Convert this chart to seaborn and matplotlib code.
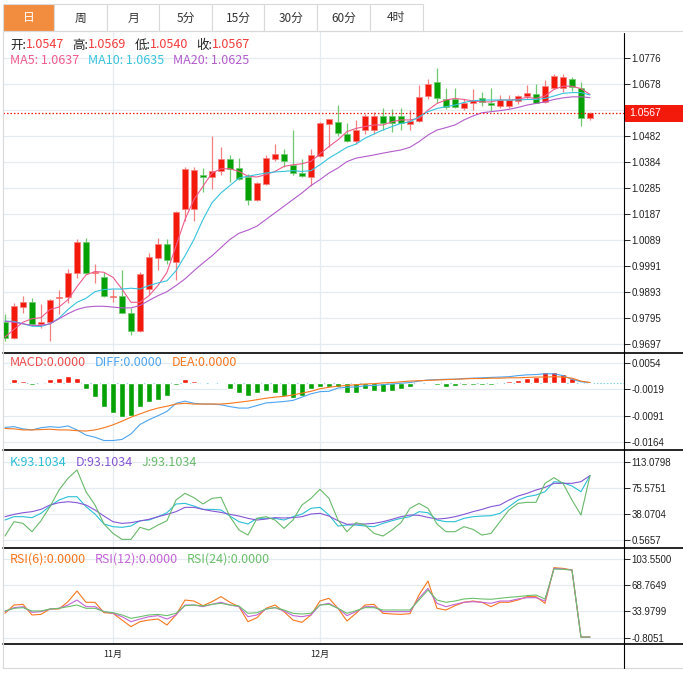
import matplotlib
matplotlib.use("Agg")
import matplotlib.pyplot as plt
from matplotlib.lines import Line2D
from matplotlib.patches import Rectangle
import numpy as np
import seaborn as sns

W, H = 683, 676

# ---- data (daily candles) ----
opens = [0.9778, 0.9718, 0.9835, 0.9854, 0.9771, 0.9779, 0.9869, 0.9873, 0.9964, 1.0083,
         0.9964, 0.9949, 0.9873, 0.9878, 0.9815, 0.9745, 0.9905, 1.0019, 1.0074, 1.0004,
         1.0204, 1.0204, 1.0334, 1.0325, 1.0347, 1.0394, 1.0360, 1.0325, 1.0238, 1.0301,
         1.0394, 1.0413, 1.0371, 1.0341, 1.0327, 1.0404, 1.0527, 1.0532, 1.0487, 1.0460,
         1.0504, 1.0504, 1.0555, 1.0555, 1.0555, 1.0527, 1.0536, 1.0630, 1.0682, 1.0620,
         1.0620, 1.0587, 1.0605, 1.0623, 1.0606, 1.0594, 1.0594, 1.0611, 1.0631, 1.0640,
         1.0610, 1.0662, 1.0662, 1.0694, 1.0663, 1.0547]
highs = [0.9809, 0.9853, 0.9876, 0.9872, 0.9847, 0.9868, 0.9899, 0.9980, 1.0092, 1.0098,
         1.0000, 0.9969, 0.9903, 0.9977, 0.9833, 0.9969, 1.0038, 1.0098, 1.0092, 1.0198,
         1.0364, 1.0364, 1.0360, 1.0482, 1.0439, 1.0408, 1.0398, 1.0339, 1.0306, 1.0407,
         1.0452, 1.0432, 1.0502, 1.0394, 1.0432, 1.0535, 1.0546, 1.0596, 1.0531, 1.0542,
         1.0565, 1.0569, 1.0587, 1.0584, 1.0587, 1.0580, 1.0674, 1.0697, 1.0738, 1.0663,
         1.0663, 1.0621, 1.0659, 1.0645, 1.0660, 1.0634, 1.0634, 1.0636, 1.0672, 1.0675,
         1.0691, 1.0713, 1.0713, 1.0703, 1.0684, 1.0569]
lows = [0.9708, 0.9716, 0.9813, 0.9767, 0.9759, 0.9707, 0.9809, 0.9852, 0.9944, 0.9962,
        0.9928, 0.9874, 0.9855, 0.9813, 0.9730, 0.9743, 0.9884, 0.9974, 0.9997, 0.9939,
        1.0162, 1.0162, 1.0271, 1.0281, 1.0335, 1.0306, 1.0313, 1.0222, 1.0236, 1.0297,
        1.0385, 1.0364, 1.0334, 1.0326, 1.0291, 1.0403, 1.0440, 1.0479, 1.0457, 1.0452,
        1.0489, 1.0487, 1.0502, 1.0496, 1.0502, 1.0504, 1.0533, 1.0621, 1.0603, 1.0584,
        1.0586, 1.0577, 1.0580, 1.0592, 1.0575, 1.0587, 1.0587, 1.0600, 1.0618, 1.0603,
        1.0606, 1.0659, 1.0647, 1.0650, 1.0518, 1.0540]
closes = [0.9721, 0.9839, 0.9857, 0.9771, 0.9781, 0.9863, 0.9874, 0.9964, 1.0083, 0.9964,
          0.9968, 0.9877, 0.9876, 0.9814, 0.9744, 0.9961, 1.0023, 1.0074, 1.0012, 1.0195,
          1.0357, 1.0354, 1.0325, 1.0349, 1.0394, 1.0357, 1.0318, 1.0238, 1.0303, 1.0396,
          1.0413, 1.0385, 1.0340, 1.0329, 1.0407, 1.0529, 1.0544, 1.0492, 1.0460, 1.0504,
          1.0555, 1.0555, 1.0531, 1.0530, 1.0530, 1.0537, 1.0628, 1.0678, 1.0624, 1.0590,
          1.0590, 1.0603, 1.0615, 1.0610, 1.0599, 1.0615, 1.0615, 1.0633, 1.0642, 1.0606,
          1.0668, 1.0706, 1.0701, 1.0665, 1.0548, 1.0567]

ma5 = [0.9723, 0.9752, 0.9779, 0.9792, 0.9796, 0.9827, 0.9836, 0.9864, 0.9913, 0.9957,
       0.9970, 0.9967, 0.9948, 0.9904, 0.9854, 0.9854, 0.9879, 0.9917, 0.9967, 1.0066,
       1.0166, 1.0241, 1.0291, 1.0341, 1.0357, 1.0357, 1.0347, 1.0329, 1.0326, 1.0335,
       1.0347, 1.0366, 1.0372, 1.0376, 1.0385, 1.0413, 1.0441, 1.0466, 1.0497, 1.0509,
       1.0516, 1.0522, 1.0522, 1.0534, 1.0541, 1.0541, 1.0547, 1.0578, 1.0603, 1.0616,
       1.0622, 1.0618, 1.0613, 1.0609, 1.0609, 1.0616, 1.0616, 1.0619, 1.0626, 1.0622,
       1.0631, 1.0656, 1.0668, 1.0668, 1.0659, 1.0637]
ma10 = [0.9783, 0.9782, 0.9773, 0.9764, 0.9763, 0.9773, 0.9794, 0.9827, 0.9854, 0.9869,
        0.9894, 0.9902, 0.9904, 0.9904, 0.9907, 0.9904, 0.9917, 0.9927, 0.9935, 0.9973,
        1.0029, 1.0091, 1.0166, 1.0229, 1.0266, 1.0294, 1.0322, 1.0329, 1.0335, 1.0341,
        1.0345, 1.0347, 1.0350, 1.0347, 1.0350, 1.0372, 1.0397, 1.0417, 1.0438, 1.0450,
        1.0472, 1.0488, 1.0503, 1.0516, 1.0528, 1.0534, 1.0553, 1.0572, 1.0584, 1.0591,
        1.0597, 1.0607, 1.0613, 1.0616, 1.0616, 1.0616, 1.0616, 1.0616, 1.0618, 1.0618,
        1.0622, 1.0631, 1.0641, 1.0644, 1.0644, 1.0635]
ma20 = [0.9783, 0.9779, 0.9773, 0.9767, 0.9767, 0.9773, 0.9792, 0.9811, 0.9827, 0.9836,
        0.9839, 0.9839, 0.9836, 0.9833, 0.9833, 0.9842, 0.9861, 0.9879, 0.9894, 0.9917,
        0.9942, 0.9973, 1.0002, 1.0029, 1.0060, 1.0091, 1.0114, 1.0126, 1.0141, 1.0166,
        1.0191, 1.0216, 1.0241, 1.0266, 1.0294, 1.0316, 1.0341, 1.0360, 1.0384, 1.0397,
        1.0403, 1.0409, 1.0416, 1.0422, 1.0428, 1.0438, 1.0459, 1.0484, 1.0503, 1.0512,
        1.0522, 1.0541, 1.0556, 1.0568, 1.0572, 1.0576, 1.0581, 1.0588, 1.0597, 1.0603,
        1.0609, 1.0618, 1.0624, 1.0628, 1.0628, 1.0625]

macd_hist = [0.0002, 0.0010, 0.0004, -0.0006, 0.0000, 0.0009, 0.0013, 0.0018, 0.0013, -0.0019,
             -0.0040, -0.0066, -0.0084, -0.0095, -0.0092, -0.0066, -0.0054, -0.0049, -0.0038, -0.0006,
             0.0011, 0.0005, 0.0000, 0.0000, -0.0005, -0.0019, -0.0030, -0.0038, -0.0029, -0.0023,
             -0.0029, -0.0036, -0.0043, -0.0036, -0.0019, -0.0012, -0.0013, -0.0011, -0.0028, -0.0028,
             -0.0019, -0.0023, -0.0026, -0.0023, -0.0019, -0.0011, -0.0001, 0.0001, -0.0007, -0.0011,
             -0.0009, -0.0007, -0.0007, -0.0007, -0.0006, 0.0000, 0.0003, 0.0007, 0.0013, 0.0015,
             0.0028, 0.0030, 0.0023, 0.0012, -0.0001, 0.0000]
diff = [-0.0123, -0.0121, -0.0127, -0.0130, -0.0124, -0.0121, -0.0123, -0.0119, -0.0130, -0.0144,
        -0.0150, -0.0159, -0.0159, -0.0156, -0.0141, -0.0115, -0.0102, -0.0091, -0.0079, -0.0057,
        -0.0051, -0.0057, -0.0059, -0.0059, -0.0061, -0.0066, -0.0070, -0.0070, -0.0063, -0.0056,
        -0.0054, -0.0052, -0.0049, -0.0040, -0.0031, -0.0025, -0.0024, -0.0015, -0.0013, -0.0012,
        -0.0009, -0.0008, -0.0006, -0.0004, -0.0002, 0.0000, 0.0004, 0.0007, 0.0008, 0.0009,
        0.0009, 0.0011, 0.0012, 0.0013, 0.0014, 0.0015, 0.0016, 0.0019, 0.0021, 0.0022,
        0.0024, 0.0024, 0.0019, 0.0009, 0.0002, 0.0000]
dea = [-0.0126, -0.0127, -0.0130, -0.0130, -0.0129, -0.0128, -0.0130, -0.0130, -0.0132, -0.0133,
       -0.0130, -0.0124, -0.0116, -0.0106, -0.0095, -0.0086, -0.0077, -0.0070, -0.0065, -0.0059,
       -0.0057, -0.0059, -0.0059, -0.0059, -0.0059, -0.0057, -0.0054, -0.0051, -0.0047, -0.0043,
       -0.0040, -0.0038, -0.0034, -0.0029, -0.0024, -0.0017, -0.0013, -0.0010, -0.0008, -0.0006,
       -0.0004, -0.0003, -0.0001, 0.0000, 0.0002, 0.0004, 0.0005, 0.0006, 0.0007, 0.0008,
       0.0009, 0.0010, 0.0011, 0.0011, 0.0012, 0.0012, 0.0013, 0.0013, 0.0014, 0.0015,
       0.0015, 0.0016, 0.0015, 0.0012, 0.0004, 0.0000]

k_line = [29.3, 34.1, 34.1, 32.7, 38.9, 49.4, 58.0, 62.8, 62.8, 48.5,
          37.9, 23.6, 19.7, 18.8, 20.7, 28.3, 29.3, 34.1, 39.8, 52.3,
          53.2, 49.4, 44.6, 44.6, 43.7, 35.0, 26.9, 23.6, 31.7, 31.7,
          31.7, 29.3, 34.1, 37.9, 46.1, 47.5, 36.5, 20.7, 22.1, 22.1,
          20.7, 19.7, 24.5, 28.3, 31.7, 34.1, 41.3, 39.8, 29.3, 26.9,
          26.9, 31.7, 34.1, 35.0, 35.5, 38.9, 48.5, 58.0, 62.8, 65.2,
          70.0, 84.4, 83.0, 78.2, 70.0, 93.1034]
d_line = [34.1, 37.4, 39.8, 41.3, 44.6, 50.9, 54.2, 55.6, 54.2, 50.9,
          43.7, 35.0, 26.9, 24.5, 25.5, 27.9, 30.3, 34.1, 37.4, 41.3,
          47.5, 47.5, 44.6, 42.2, 40.3, 37.4, 35.0, 31.7, 29.3, 30.7,
          32.7, 32.2, 32.7, 34.1, 37.9, 38.9, 35.0, 28.3, 23.1, 23.6,
          23.6, 24.5, 26.9, 30.3, 34.1, 36.5, 36.0, 33.1, 30.7, 31.7,
          34.1, 37.4, 41.3, 44.6, 48.5, 50.9, 58.0, 63.7, 67.6, 72.4,
          76.2, 82.0, 82.0, 82.0, 84.4, 93.1034]
j_line = [6.3, 26.9, 24.5, 12.5, 28.3, 48.5, 72.4, 89.2, 101.2, 70.0,
          50.9, 23.6, 10.1, 1.5, 1.5, 18.8, 14.9, 22.1, 28.3, 58.0,
          67.6, 61.4, 52.3, 60.4, 61.9, 34.1, 14.9, 7.7, 31.7, 34.1,
          29.3, 17.3, 29.3, 50.9, 60.4, 73.4, 60.4, 29.3, 12.5, 25.5,
          22.1, 10.1, 6.3, 14.9, 25.5, 46.1, 53.2, 46.1, 23.6, 12.5,
          12.5, 19.7, 15.9, 7.7, 10.1, 26.9, 43.7, 53.2, 54.7, 54.7,
          82.0, 90.1, 82.0, 58.0, 36.5, 93.1034]

rsi6 = [31.5, 42.5, 43.4, 29.3, 30.1, 37.2, 37.2, 46.9, 61.1, 46.1,
        46.1, 32.3, 31.5, 22.6, 13.8, 20.4, 22.6, 23.9, 16.0, 29.3,
        49.1, 47.8, 41.6, 46.9, 53.6, 46.1, 40.3, 20.4, 25.7, 38.1,
        42.5, 33.7, 22.6, 19.5, 29.3, 47.8, 51.4, 38.1, 21.3, 31.5,
        42.5, 43.4, 31.5, 30.6, 30.1, 31.0, 55.8, 74.3, 38.1, 35.9,
        41.6, 46.1, 47.8, 46.1, 40.3, 46.1, 46.1, 49.1, 53.6, 53.6,
        44.7, 92.0, 91.1, 88.9, 0.0, 0.0]
rsi12 = [33.7, 39.0, 40.3, 32.8, 33.7, 37.2, 38.1, 42.5, 49.1, 40.3,
         40.3, 33.7, 31.5, 27.0, 20.4, 23.9, 27.0, 28.4, 23.9, 29.3,
         42.5, 42.5, 40.3, 43.4, 46.1, 42.5, 40.3, 27.0, 29.3, 37.2,
         39.0, 34.6, 28.4, 27.0, 29.3, 42.5, 44.7, 38.1, 28.4, 33.7,
         40.3, 40.3, 33.7, 33.7, 33.7, 33.7, 51.4, 64.6, 44.7, 40.3,
         43.4, 46.1, 46.9, 46.1, 44.7, 47.8, 47.8, 50.5, 52.2, 52.2,
         47.8, 91.1, 90.2, 88.9, 0.0, 0.0]
rsi24 = [34.6, 38.1, 39.0, 34.6, 34.6, 37.2, 38.1, 40.3, 42.5, 38.1,
         38.1, 33.7, 32.3, 29.3, 24.8, 27.0, 29.3, 30.1, 28.4, 31.5,
         41.6, 42.5, 41.2, 43.4, 44.7, 42.5, 41.2, 31.5, 32.3, 37.2,
         39.0, 35.9, 31.5, 30.6, 31.5, 42.5, 43.4, 38.1, 31.5, 35.0,
         39.0, 39.0, 35.9, 35.9, 35.9, 35.9, 49.1, 62.4, 49.1, 46.1,
         47.8, 50.5, 51.4, 50.5, 50.1, 51.4, 52.7, 53.6, 54.9, 55.8,
         50.5, 90.2, 89.8, 88.9, 0.0, 0.0]

tabs = ["日", "周", "月", "5分", "15分", "30分", "60分", "4时"]
month_pos = [12, 35]
month_labels = ["11月", "12月"]

price_ticks = [0.9697, 0.9795, 0.9893, 0.9991, 1.0089, 1.0187, 1.0285, 1.0384,
               1.0482, 1.0580, 1.0678, 1.0776]
macd_ticks = [-0.0164, -0.0091, -0.0019, 0.0054]
kdj_ticks = [0.5657, 38.0704, 75.5751, 113.0798]
rsi_ticks = [-0.8051, 33.9799, 68.7649, 103.5500]

# ---- colours ----
RED, GREEN = "#f31a0b", "#05a105"
RED_WICK, GREEN_WICK = "#f58080", "#70c970"
GRID = "#e4ecf2"
BORDER = "#d9d9d9"
C_MA5, C_MA10, C_MA20 = "#ef5b8c", "#36c3dd", "#b35ccb"
C_DIFF, C_DEA, C_MACD = "#4ea4ee", "#f7771d", "#ef4d4d"
C_K, C_D, C_J = "#2bbfd6", "#8656d6", "#69b96b"
C_R6, C_R12, C_R24 = "#f7771d", "#c464d6", "#6bc06b"

sns.set_theme(style="white")
plt.rcParams["font.family"] = ["Noto Sans CJK SC", "DejaVu Sans"]

fig = plt.figure(figsize=(W / 100, H / 100), dpi=100)
fig.patch.set_facecolor("white")

XMIN, XMAX = -0.22, 68.78
idx = np.arange(len(closes))


def box(x0, y0, x1, y1):
    return [x0 / W, 1 - y1 / H, (x1 - x0) / W, (y1 - y0) / H]


def hline(y, x0, x1, color, lw):
    fig.add_artist(Line2D([x0 / W, x1 / W], [1 - y / H, 1 - y / H],
                          transform=fig.transFigure, color=color, lw=lw))


def vline(x, y0, y1, color, lw):
    fig.add_artist(Line2D([x / W, x / W], [1 - y0 / H, 1 - y1 / H],
                          transform=fig.transFigure, color=color, lw=lw))


def panel(y0, y1, ylim, ticks, labels):
    ax = fig.add_axes(box(3, y0, 624, y1))
    ax.set_facecolor("none")
    ax.set_xlim(XMIN, XMAX)
    ax.set_ylim(*ylim)
    for s in ax.spines.values():
        s.set_visible(False)
    ax.yaxis.tick_right()
    ax.set_yticks(ticks, labels, fontsize=7, fontfamily="Liberation Sans")
    ax.tick_params(axis="y", direction="out", length=4, width=0.6,
                   color="black", pad=1.5, labelcolor="#222222")
    ax.set_xticks([])
    for t in ticks:
        ax.axhline(t, color=GRID, lw=0.9, zorder=0)
    for m in month_pos:
        ax.axvline(m, color=GRID, lw=0.9, zorder=0)
    return ax


def text_row(x, y, parts, size=9):
    r = fig.canvas.get_renderer()
    for s, c, gap in parts:
        t = fig.text(x / W, 1 - y / H, s, color=c, fontsize=size, va="center", ha="left")
        x += t.get_window_extent(r).width + gap


# ---- main candlestick panel ----
ax = panel(31, 353, (0.9663, 1.0876), price_ticks,
           [f"{v:.4f}" if v != 1.0580 else "" for v in price_ticks])
o, c, h, l = map(np.array, (opens, closes, highs, lows))
up = c >= o
body_col = np.where(up, RED, GREEN)
wick_col = np.where(up, RED_WICK, GREEN_WICK)
ax.vlines(idx, l, h, colors=wick_col, lw=0.9, zorder=2)
ax.bar(idx, np.maximum(np.abs(c - o), 0.0004), bottom=np.minimum(o, c), width=0.68,
       color=body_col, edgecolor=wick_col, linewidth=0.5, zorder=3)
for series, col in ((ma5, C_MA5), (ma10, C_MA10), (ma20, C_MA20)):
    sns.lineplot(x=idx, y=series, ax=ax, color=col, linewidth=0.8, zorder=4)
ax.axhline(closes[-1], color=RED, lw=0.9, ls=(0, (1.2, 1.6)), zorder=5)

# current price tag on the axis
ytag = ax.transData.transform((0, closes[-1]))[1]
fig.add_artist(Rectangle((625 / W, (ytag - 8.5) / H), 58 / W, 17 / H,
                         transform=fig.transFigure, fc=RED, ec="none", zorder=6))
fig.text(629 / W, ytag / H, f"{closes[-1]:.4f}", color="white", fontsize=7.5,
         fontfamily="Liberation Sans", va="center", ha="left", zorder=7)

DARK, VAL = "#222222", "#f23a3a"
text_row(10, 45, [("开:", DARK, 0), (f"{opens[-1]:.4f}", VAL, 8),
                  ("高:", DARK, 0), (f"{highs[-1]:.4f}", VAL, 8),
                  ("低:", DARK, 0), (f"{lows[-1]:.4f}", VAL, 8),
                  ("收:", DARK, 0), (f"{closes[-1]:.4f}", VAL, 0)])
text_row(10, 60, [(f"MA5: {ma5[-1]:.4f}", C_MA5, 9),
                  (f"MA10: {ma10[-1]:.4f}", C_MA10, 9),
                  (f"MA20: {ma20[-1]:.4f}", C_MA20, 0)])

# ---- MACD ----
ax2 = panel(353, 450, (-0.0185, 0.0081), macd_ticks, [f"{v:.4f}" for v in macd_ticks])
hist = np.array(macd_hist)
ax2.bar(idx, hist, width=0.68, color=np.where(hist >= 0, RED, GREEN), zorder=2)
ax2.axhline(0, color="#8fd3e0", lw=0.8, ls=(0, (1.5, 1.5)), zorder=1)
sns.lineplot(x=idx, y=diff, ax=ax2, color=C_DIFF, linewidth=0.8, zorder=3)
sns.lineplot(x=idx, y=dea, ax=ax2, color=C_DEA, linewidth=0.8, zorder=3)
text_row(10, 363, [(f"MACD:{macd_hist[-1]:.4f}", C_MACD, 9),
                   (f"DIFF:{diff[-1]:.4f}", C_DIFF, 9),
                   (f"DEA:{dea[-1]:.4f}", C_DEA, 0)])

# ---- KDJ ----
ax3 = panel(450, 548, (-10.9, 129.9), kdj_ticks, [f"{v:.4f}" for v in kdj_ticks])
for series, col in ((k_line, C_K), (d_line, C_D), (j_line, C_J)):
    sns.lineplot(x=idx, y=series, ax=ax3, color=col, linewidth=0.8)
text_row(10, 462, [(f"K:{k_line[-1]:.4f}", C_K, 9),
                   (f"D:{d_line[-1]:.4f}", C_D, 9),
                   (f"J:{j_line[-1]:.4f}", C_J, 0)])

# ---- RSI ----
ax4 = panel(548, 644, (-9.2, 118.1), rsi_ticks, [f"{v:.4f}" for v in rsi_ticks])
for series, col in ((rsi6, C_R6), (rsi12, C_R12), (rsi24, C_R24)):
    sns.lineplot(x=idx, y=series, ax=ax4, color=col, linewidth=0.8)
ax4.set_xticks(month_pos, month_labels, fontsize=6.5)
ax4.tick_params(axis="x", length=0, pad=4, labelcolor="#222222")
text_row(10, 559, [(f"RSI(6):{rsi6[-1]:.4f}", C_R6, 9),
                   (f"RSI(12):{rsi12[-1]:.4f}", C_R12, 9),
                   (f"RSI(24):{rsi24[-1]:.4f}", C_R24, 0)])

# ---- frame lines ----
hline(31, 3, 683, BORDER, 0.8)
for y in (353, 450, 548, 644):
    hline(y, 3, 683, "black", 1.2)
hline(668, 3, 683, BORDER, 0.8)
vline(3, 31, 668, BORDER, 0.8)
vline(624, 33, 668, "black", 0.8)

# ---- period tabs ----
edges = [3, 54.3, 106.7, 159.3, 212, 264.3, 317, 370, 422.7]
for i, name in enumerate(tabs):
    x0, x1 = edges[i], edges[i + 1]
    active = i == 0
    fig.add_artist(Rectangle((x0 / W, 1 - 31 / H), (x1 - x0) / W, 27 / H,
                             transform=fig.transFigure,
                             fc="#f28d3f" if active else "white", ec=BORDER, lw=0.8))
    fig.text((x0 + x1) / 2 / W, 1 - 18 / H, name, fontsize=8.5,
             color="white" if active else "#333333", ha="center", va="center")

fig.savefig("out.png", dpi=100, facecolor="white")
